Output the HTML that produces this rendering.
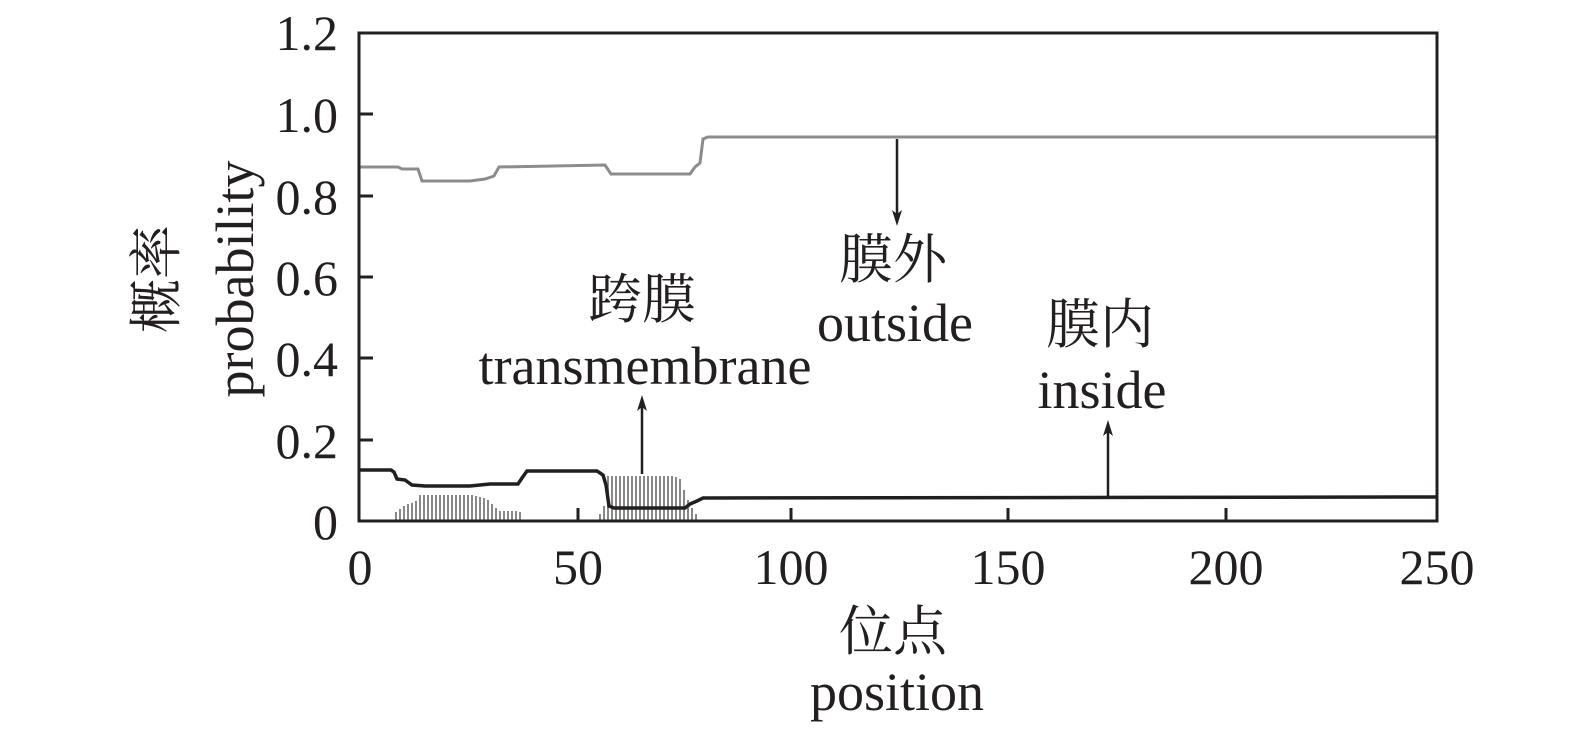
<!DOCTYPE html>
<html><head><meta charset="utf-8"><style>
html,body{margin:0;padding:0;background:#fff;}
svg text{font-family:"Liberation Serif","Noto Serif CJK SC",serif;fill:#231f20;}
</style></head><body>
<svg width="1575" height="732" viewBox="0 0 1575 732" xmlns="http://www.w3.org/2000/svg">
<!-- bars group 1 -->
<g stroke="#888" stroke-width="2">
<line x1="396" y1="521" x2="396" y2="512"/><line x1="400" y1="521" x2="400" y2="509"/><line x1="404" y1="521" x2="404" y2="506"/><line x1="408" y1="521" x2="408" y2="504"/><line x1="412" y1="521" x2="412" y2="503"/><line x1="416" y1="521" x2="416" y2="501"/>
<line x1="420" y1="521" x2="420" y2="495"/><line x1="424" y1="521" x2="424" y2="495"/><line x1="428" y1="521" x2="428" y2="495"/><line x1="432" y1="521" x2="432" y2="495"/><line x1="436" y1="521" x2="436" y2="495"/><line x1="440" y1="521" x2="440" y2="495"/><line x1="444" y1="521" x2="444" y2="495"/><line x1="448" y1="521" x2="448" y2="495"/><line x1="452" y1="521" x2="452" y2="495"/><line x1="456" y1="521" x2="456" y2="495"/><line x1="460" y1="521" x2="460" y2="495"/><line x1="464" y1="521" x2="464" y2="495"/><line x1="468" y1="521" x2="468" y2="495"/><line x1="472" y1="521" x2="472" y2="495"/><line x1="476" y1="521" x2="476" y2="496"/><line x1="480" y1="521" x2="480" y2="497"/><line x1="484" y1="521" x2="484" y2="498"/><line x1="488" y1="521" x2="488" y2="500"/>
<line x1="492" y1="521" x2="492" y2="504"/><line x1="496" y1="521" x2="496" y2="508"/><line x1="500" y1="521" x2="500" y2="511"/><line x1="504" y1="521" x2="504" y2="511"/><line x1="508" y1="521" x2="508" y2="511"/><line x1="512" y1="521" x2="512" y2="511"/><line x1="516" y1="521" x2="516" y2="511"/><line x1="520" y1="521" x2="520" y2="512"/>
<line x1="600" y1="521" x2="600" y2="514"/><line x1="604" y1="521" x2="604" y2="506"/>
<line x1="608" y1="521" x2="608" y2="476"/><line x1="612" y1="521" x2="612" y2="476"/><line x1="616" y1="521" x2="616" y2="476"/><line x1="620" y1="521" x2="620" y2="476"/><line x1="624" y1="521" x2="624" y2="476"/><line x1="628" y1="521" x2="628" y2="476"/><line x1="632" y1="521" x2="632" y2="476"/><line x1="636" y1="521" x2="636" y2="476"/><line x1="640" y1="521" x2="640" y2="476"/><line x1="644" y1="521" x2="644" y2="476"/><line x1="648" y1="521" x2="648" y2="476"/><line x1="652" y1="521" x2="652" y2="476"/><line x1="656" y1="521" x2="656" y2="476"/><line x1="660" y1="521" x2="660" y2="476"/><line x1="664" y1="521" x2="664" y2="476"/><line x1="668" y1="521" x2="668" y2="476"/><line x1="672" y1="521" x2="672" y2="476"/><line x1="676" y1="521" x2="676" y2="477"/><line x1="680" y1="521" x2="680" y2="479"/><line x1="684" y1="521" x2="684" y2="490"/><line x1="688" y1="521" x2="688" y2="500"/><line x1="692" y1="521" x2="692" y2="508"/><line x1="696" y1="521" x2="696" y2="514"/>
</g>
<polyline fill="none" stroke="#8c8c8c" stroke-width="3" points="360,167 398,167 402,169 418,169 422,181 470,181 485,179 494,176 499,167 605,165 611,174 690,174 695,167 700,163 703,139 708,137 1437,137"/>
<polyline fill="none" stroke="#231f20" stroke-width="3.5" points="360,470 391,470 394,472 397,479 405,480 412,485 425,486 470,486 490,484 518,484 522,478 527,471 597,471 603,475 606,485 609,506 614,508 685,508 690,504 697,501 703,498 1437,497"/>
<rect x="359" y="33" width="1078" height="488" fill="none" stroke="#231f20" stroke-width="3"/>
<g stroke="#231f20" stroke-width="3">
<line x1="359" y1="114" x2="373" y2="114"/><line x1="359" y1="196" x2="373" y2="196"/><line x1="359" y1="277" x2="373" y2="277"/><line x1="359" y1="358" x2="373" y2="358"/><line x1="359" y1="440" x2="373" y2="440"/>
<line x1="578" y1="521" x2="578" y2="508"/><line x1="791" y1="521" x2="791" y2="508"/><line x1="1008" y1="521" x2="1008" y2="508"/><line x1="1226" y1="521" x2="1226" y2="508"/>
</g>
<g stroke="#231f20" stroke-width="2.5">
<line x1="897" y1="139" x2="897" y2="215"/>
<line x1="642" y1="474" x2="642" y2="405"/>
<line x1="1108" y1="496" x2="1108" y2="430"/>
</g>
<g fill="#231f20">
<path d="M897 226 L892 210 L897 214 L902 210 Z"/>
<path d="M642 395 L637 411 L642 407 L647 411 Z"/>
<path d="M1108 420 L1103 436 L1108 432 L1113 436 Z"/>
</g>
<g font-size="50" text-anchor="end">
<text x="338" y="50">1.2</text><text x="338" y="132">1.0</text><text x="338" y="214">0.8</text><text x="338" y="295">0.6</text><text x="338" y="376">0.4</text><text x="338" y="458">0.2</text><text x="338" y="539">0</text>
</g>
<g font-size="50" text-anchor="middle">
<text x="360" y="584">0</text><text x="578" y="584">50</text><text x="791" y="584">100</text><text x="1008" y="584">150</text><text x="1226" y="584">200</text><text x="1437" y="584">250</text>
</g>
<g font-size="54" text-anchor="middle">
<text x="893" y="278">膜外</text>
<text x="895" y="341">outside</text>
<text x="642" y="318">跨膜</text>
<text x="645" y="384">transmembrane</text>
<text x="1100" y="343">膜内</text>
<text x="1102" y="408">inside</text>
<text x="893" y="650">位点</text>
<text x="897" y="710">position</text>
<text transform="translate(175,279) rotate(-90)">概率</text>
<text transform="translate(253,279) rotate(-90)">probability</text>
</g>
</svg>
</body></html>
